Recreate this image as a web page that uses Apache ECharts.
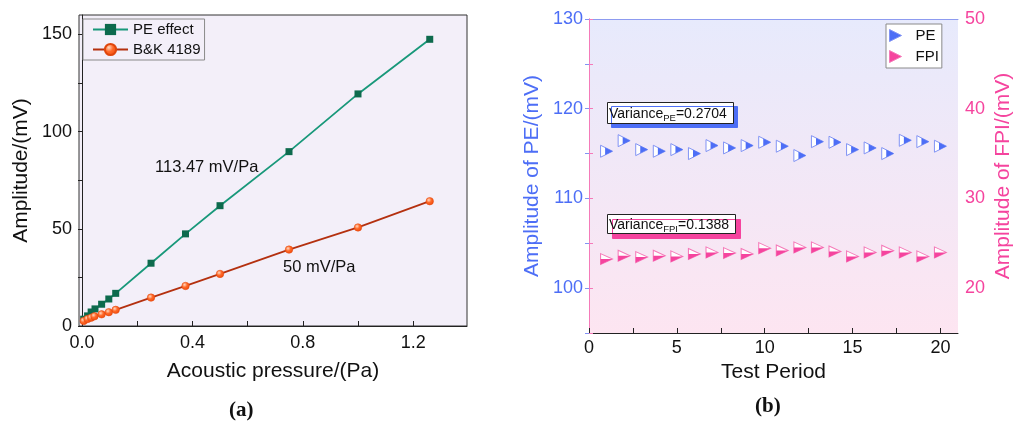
<!DOCTYPE html>
<html>
<head>
<meta charset="utf-8">
<script src="https://cdn.jsdelivr.net/npm/echarts@6/dist/echarts.min.js"></script>
<style>
  html, body { margin: 0; padding: 0; background: #ffffff; }
  #chart { width: 1020px; height: 425px; }
</style>
</head>
<body>
<div id="chart"></div>
<script>
// (a) sensitivity: amplitude versus acoustic pressure
const pressurePE = [0.006, 0.02, 0.033, 0.047, 0.071, 0.097, 0.122, 0.25, 0.375, 0.5, 0.75, 1.0, 1.26];
const amplitudePE = [3.5, 5.2, 7.2, 8.8, 11.2, 13.9, 16.8, 32.3, 47.4, 61.9, 89.7, 119.4, 147.5];
const pressureBK = [0.006, 0.02, 0.033, 0.045, 0.071, 0.097, 0.122, 0.25, 0.375, 0.5, 0.75, 1.0, 1.26];
const amplitudeBK = [2.6, 3.6, 4.3, 5.0, 6.0, 7.1, 8.3, 14.6, 20.6, 26.8, 39.3, 50.7, 64.2];
const pressureLabels = [0, 0.4, 0.8, 1.2];
const pressureTicks = [0, 0.2, 0.4, 0.6, 0.8, 1.0, 1.2];
const amplitudeLabels = [0, 50, 100, 150];
const amplitudeTicks = [0, 25, 50, 75, 100, 125, 150];

// (b) repeatability over test periods
const periods = [1, 2, 3, 4, 5, 6, 7, 8, 9, 10, 11, 12, 13, 14, 15, 16, 17, 18, 19, 20];
const amplitudePEPeriod = [115.26, 116.44, 115.44, 115.26, 115.44, 115.0, 115.89, 115.63, 115.89, 116.26,
                           115.82, 114.78, 116.33, 116.26, 115.44, 115.63, 115.0, 116.48, 116.33, 115.82];
const amplitudeFPIPeriod = [23.24, 23.61, 23.46, 23.61, 23.54, 23.8, 23.98, 23.91, 23.8, 24.46,
                            24.2, 24.54, 24.54, 24.09, 23.54, 23.98, 24.17, 23.98, 23.54, 23.98];
const periodLabels = [0, 5, 10, 15, 20];
const periodTicks = [0, 2.5, 5, 7.5, 10, 12.5, 15, 17.5, 20];

const zip = (xs, ys) => xs.map((x, i) => [x, ys[i]]);

const FONT = 'Liberation Sans, Arial, sans-serif';
const BLUE = '#4d6ef6';
const BLUE_LINE = '#8193f4';
const PINK = '#f5449e';
const PINK_LINE = '#f57ab9';

// right-pointing triangle and its partial fills (bounding box kept at 0..1)
const TRI = 'path://M0,0L1,0.5L0,1Z';
const TRI_RIGHT_FILL = 'path://M0,0M1,1M0.38,0.19L1,0.5L0.38,0.81Z';
const TRI_LOWER_FILL = 'path://M0,0M1,1M0,0.5L1,0.5L0,1Z';

const chart = echarts.init(document.getElementById('chart'), null, { renderer: 'canvas' });

const varianceRich = {
  a: { fontSize: 14, fill: '#111', lineHeight: 16, verticalAlign: 'top' },
  s: { fontSize: 9.5, fill: '#111', lineHeight: 16, verticalAlign: 'bottom', padding: [7, 0, 0, 0] }
};

const option = {
  animation: false,
  textStyle: { fontFamily: FONT },
  grid: [
    { left: 79, top: 15, width: 388, height: 311, show: true, backgroundColor: '#f3eff9',
      borderColor: '#333', borderWidth: 1 },
    { left: 589, top: 19, width: 369, height: 314, show: true, borderWidth: 0,
      backgroundColor: { type: 'linear', x: 0, y: 0, x2: 0, y2: 1,
        colorStops: [{ offset: 0, color: '#e7eafc' }, { offset: 1, color: '#fde5f1' }] } }
  ],
  legend: [
    { orient: 'vertical', left: 83, top: 19, padding: [3, 4, 3, 9], itemGap: 5,
      itemWidth: 35, itemHeight: 14, borderColor: '#8a8a8a', borderWidth: 1,
      textStyle: { fontSize: 15, color: '#111', fontFamily: FONT },
      data: ['PE effect', 'B&K 4189'] },
    { orient: 'vertical', left: 886, top: 24, padding: [4, 3, 4, 3], itemGap: 6,
      itemWidth: 30, itemHeight: 12, borderColor: '#8a8a8a', borderWidth: 1,
      backgroundColor: '#ffffff',
      textStyle: { fontSize: 15, color: '#111', fontFamily: FONT },
      data: [
        { name: 'PE', icon: TRI, itemStyle: { color: BLUE, borderColor: BLUE_LINE, borderWidth: 1 } },
        { name: 'FPI', icon: TRI, itemStyle: { color: PINK, borderColor: PINK_LINE, borderWidth: 1 } }
      ] }
  ],
  xAxis: [
    { gridIndex: 0, type: 'value', min: -0.011, max: 1.395,
      name: 'Acoustic pressure/(Pa)', nameLocation: 'middle', nameGap: 35,
      nameTextStyle: { fontSize: 21, color: '#111', fontFamily: FONT },
      axisLine: { lineStyle: { color: '#222', width: 1 } },
      axisTick: { inside: true, length: 5, customValues: pressureTicks, lineStyle: { color: '#222' } },
      axisLabel: { customValues: pressureLabels, margin: 8, fontSize: 18, color: '#111',
        formatter: v => v.toFixed(1) },
      splitLine: { show: false } },
    { gridIndex: 1, type: 'value', min: 0, max: 21,
      name: 'Test Period', nameLocation: 'middle', nameGap: 28,
      nameTextStyle: { fontSize: 21, color: '#111', fontFamily: FONT },
      axisLine: { lineStyle: { color: '#222', width: 1 } },
      axisTick: { inside: true, length: 5, customValues: periodTicks, lineStyle: { color: '#222' } },
      axisLabel: { customValues: periodLabels, margin: 6, fontSize: 18, color: '#111',
        formatter: v => String(v) },
      splitLine: { show: false } },
    { gridIndex: 1, type: 'value', position: 'top', min: 0, max: 21,
      axisLine: { lineStyle: { color: '#8d9bf0', width: 1 } },
      axisTick: { show: false }, axisLabel: { show: false }, splitLine: { show: false } }
  ],
  yAxis: [
    { gridIndex: 0, type: 'value', min: 0, max: 160,
      name: 'Amplitude/(mV)', nameLocation: 'middle', nameGap: 47,
      nameTextStyle: { fontSize: 21, color: '#111', fontFamily: FONT },
      axisLine: { show: true, lineStyle: { color: '#222', width: 1 } },
      axisTick: { show: true, length: 4, customValues: amplitudeTicks, lineStyle: { color: '#222' } },
      axisLabel: { customValues: amplitudeLabels, margin: 7, fontSize: 18, color: '#111',
        formatter: v => String(v) },
      splitLine: { show: false } },
    { gridIndex: 1, type: 'value', position: 'left', min: 95, max: 130, interval: 5,
      name: 'Amplitude of PE/(mV)', nameLocation: 'middle', nameGap: 46,
      nameTextStyle: { fontSize: 21, color: BLUE, fontFamily: FONT },
      axisLine: { show: true, lineStyle: { color: BLUE_LINE, width: 1 } },
      axisTick: { show: true, length: 4, lineStyle: { color: BLUE_LINE } },
      axisLabel: { margin: 6, fontSize: 18, color: BLUE,
        formatter: v => (v % 10 === 0 ? String(v) : '') },
      splitLine: { show: false } },
    { gridIndex: 1, type: 'value', position: 'right', min: 15, max: 50, interval: 5,
      name: 'Amplitude of FPI/(mV)', nameLocation: 'middle', nameGap: 35,
      nameTextStyle: { fontSize: 21, color: PINK, fontFamily: FONT },
      axisLine: { show: true, lineStyle: { color: PINK_LINE, width: 1 } },
      axisTick: { show: true, length: 4, lineStyle: { color: PINK_LINE } },
      axisLabel: { margin: 7, fontSize: 18, color: PINK,
        formatter: v => (v % 10 === 0 ? String(v) : '') },
      splitLine: { show: false } }
  ],
  series: [
    { name: 'PE effect', type: 'line', xAxisIndex: 0, yAxisIndex: 0,
      data: zip(pressurePE, amplitudePE),
      symbol: 'rect', symbolSize: 7, showAllSymbol: true,
      lineStyle: { color: '#18987a', width: 1.8 },
      itemStyle: { color: '#0d6a4d' }, z: 3 },
    { name: 'B&K 4189', type: 'line', xAxisIndex: 0, yAxisIndex: 0,
      data: zip(pressureBK, amplitudeBK),
      symbol: 'circle', symbolSize: 7.5, showAllSymbol: true,
      lineStyle: { color: '#b4300f', width: 1.8 },
      itemStyle: {
        color: { type: 'radial', x: 0.38, y: 0.35, r: 0.7,
          colorStops: [{ offset: 0, color: '#ffd9c2' }, { offset: 0.45, color: '#ff6a2a' }, { offset: 1, color: '#f0480a' }] },
        borderColor: '#e0460c', borderWidth: 0.5 }, z: 3 },

    { name: 'PE', type: 'scatter', xAxisIndex: 1, yAxisIndex: 1,
      data: zip(periods, amplitudePEPeriod),
      symbol: TRI, symbolSize: [12, 12],
      itemStyle: { color: '#ffffff', borderColor: BLUE_LINE, borderWidth: 1, opacity: 1 }, z: 3 },
    { name: 'PE fill', type: 'scatter', xAxisIndex: 1, yAxisIndex: 1,
      data: zip(periods, amplitudePEPeriod),
      symbol: TRI_RIGHT_FILL, symbolSize: [12, 12],
      itemStyle: { color: BLUE, opacity: 1 }, z: 4 },
    { name: 'FPI', type: 'scatter', xAxisIndex: 1, yAxisIndex: 2,
      data: zip(periods, amplitudeFPIPeriod),
      symbol: TRI, symbolSize: [12, 11],
      itemStyle: { color: '#ffffff', borderColor: PINK_LINE, borderWidth: 1, opacity: 1 }, z: 3 },
    { name: 'FPI fill', type: 'scatter', xAxisIndex: 1, yAxisIndex: 2,
      data: zip(periods, amplitudeFPIPeriod),
      symbol: TRI_LOWER_FILL, symbolSize: [12, 11],
      itemStyle: { color: PINK, opacity: 1 }, z: 4 }
  ],
  graphic: [
    // slope annotations
    { type: 'text', left: 155, top: 159, z: 10,
      style: { text: '113.47 mV/Pa', fontSize: 16.5, fill: '#111', fontFamily: FONT } },
    { type: 'text', left: 283, top: 259, z: 10,
      style: { text: '50 mV/Pa', fontSize: 16.5, fill: '#111', fontFamily: FONT } },

    // variance boxes with offset shadow
    { type: 'rect', left: 607, top: 102, z: 10,
      shape: { width: 126, height: 21 },
      style: { fill: '#ffffff', stroke: '#222', lineWidth: 1,
        shadowColor: BLUE, shadowOffsetX: 4, shadowOffsetY: 4, shadowBlur: 0 } },
    { type: 'text', left: 609, top: 106, z: 11,
      style: { text: '{a|Variance}{s|PE}{a|=0.2704}', fontFamily: FONT, rich: varianceRich } },
    { type: 'rect', left: 607, top: 214, z: 10,
      shape: { width: 128, height: 19 },
      style: { fill: '#ffffff', stroke: '#222', lineWidth: 1,
        shadowColor: PINK, shadowOffsetX: 5, shadowOffsetY: 5, shadowBlur: 0 } },
    { type: 'text', left: 609, top: 217, z: 11,
      style: { text: '{a|Variance}{s|FPI}{a|=0.1388}', fontFamily: FONT, rich: varianceRich } },

    // panel captions
    { type: 'text', left: 229, top: 400, z: 10,
      style: { text: '(a)', fontSize: 21, fontWeight: 'bold', fill: '#111', fontFamily: 'Liberation Serif, serif' } },
    { type: 'text', left: 755, top: 396, z: 10,
      style: { text: '(b)', fontSize: 21, fontWeight: 'bold', fill: '#111', fontFamily: 'Liberation Serif, serif' } }
  ]
};

chart.setOption(option);
</script>
</body>
</html>
